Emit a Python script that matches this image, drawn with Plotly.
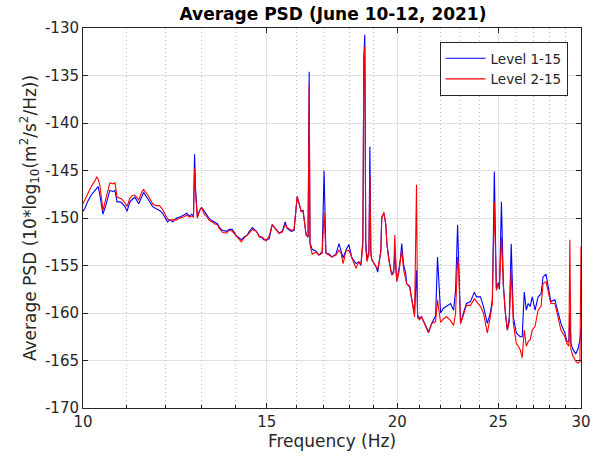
import plotly.graph_objects as go

# Frequency (Hz)
freq = [10.00, 10.04, 10.11, 10.18, 10.25, 10.31, 10.34, 10.38, 10.45, 10.52,
        10.61, 10.68, 10.73, 10.78, 10.85, 10.89, 10.97, 11.02, 11.09, 11.16,
        11.21, 11.31, 11.38, 11.43, 11.54, 11.59, 11.66, 11.74, 11.84, 11.92,
        11.98, 12.05, 12.11, 12.19, 12.29, 12.38, 12.48, 12.57, 12.65, 12.71,
        12.76, 12.79, 12.82, 12.87, 12.93, 12.99, 13.07, 13.13, 13.22, 13.30,
        13.36, 13.45, 13.51, 13.60, 13.72, 13.81, 13.90, 14.03, 14.12, 14.18,
        14.27, 14.37, 14.43, 14.53, 14.66, 14.75, 14.85, 14.91, 14.98, 15.08,
        15.18, 15.31, 15.41, 15.52, 15.62, 15.69, 15.83, 15.93, 16.00, 16.04,
        16.11, 16.18, 16.25, 16.32, 16.36, 16.43, 16.47, 16.50, 16.58, 16.72,
        16.83, 16.95, 17.02, 17.09, 17.21, 17.32, 17.47, 17.59, 17.67, 17.75,
        17.86, 17.98, 18.10, 18.26, 18.38, 18.46, 18.54, 18.58, 18.62, 18.66,
        18.71, 18.79, 18.83, 18.87, 18.91, 19.08, 19.16, 19.29, 19.33, 19.42,
        19.50, 19.55, 19.63, 19.76, 19.85, 19.89, 19.98, 20.07, 20.15, 20.20,
        20.29, 20.38, 20.42, 20.56, 20.65, 20.78, 20.87, 20.92, 21.01, 21.10,
        21.29, 21.43, 21.58, 21.77, 21.86, 22.01, 22.15, 22.30, 22.50, 22.65,
        22.75, 22.85, 22.90, 23.00, 23.15, 23.30, 23.51, 23.71, 23.82, 24.03,
        24.19, 24.40, 24.56, 24.67, 24.78, 24.89, 25.00, 25.06, 25.17, 25.28,
        25.39, 25.50, 25.61, 25.72, 25.84, 26.01, 26.12, 26.24, 26.35, 26.47,
        26.59, 26.70, 26.82, 26.94, 27.11, 27.29, 27.47, 27.59, 27.77, 27.89,
        28.07, 28.32, 28.51, 28.70, 28.95, 29.08, 29.21, 29.27, 29.34, 29.46,
        29.66, 29.80, 29.93, 30.00]

# Level 1-15 (blue), dB
level_1_15 = [-149.3, -149.0, -148.2, -147.6, -147.2, -146.8, -146.7, -147.6, -149.6, -148.6,
              -147.1, -147.2, -147.1, -148.3, -148.3, -148.4, -148.8, -149.3, -148.3, -148.0,
              -147.8, -148.5, -147.8, -147.3, -148.0, -148.4, -148.8, -149.0, -149.2, -149.5,
              -150.0, -150.4, -150.2, -150.4, -150.0, -149.9, -149.7, -149.5, -149.8, -149.6,
              -149.8, -143.3, -147.0, -149.9, -149.2, -148.9, -149.3, -149.6, -150.1, -150.3,
              -150.4, -150.6, -151.0, -151.3, -151.4, -151.2, -151.2, -151.9, -152.1, -152.3,
              -152.0, -151.8, -151.4, -151.0, -151.4, -151.9, -152.1, -152.3, -152.3, -152.2,
              -150.7, -151.2, -151.6, -151.4, -150.4, -151.1, -151.4, -151.3, -149.0, -147.8,
              -148.5, -149.3, -149.2, -150.7, -151.8, -152.0, -134.6, -152.6, -153.3, -153.5,
              -153.9, -153.5, -145.0, -153.7, -153.8, -154.1, -153.8, -152.7, -153.6, -154.2,
              -153.4, -152.8, -154.2, -154.8, -154.6, -155.0, -152.3, -133.2, -130.7, -152.5,
              -154.4, -153.5, -142.5, -153.5, -154.4, -155.1, -155.7, -153.5, -149.9, -149.5,
              -150.6, -152.7, -154.2, -156.0, -155.5, -153.7, -156.6, -155.5, -154.1, -152.7,
              -155.0, -155.8, -156.9, -157.2, -158.5, -160.1, -155.5, -160.2, -160.6, -160.4,
              -161.3, -162.0, -161.1, -160.3, -154.1, -160.0, -159.5, -159.3, -159.0, -159.7,
              -157.6, -150.7, -155.0, -161.1, -160.0, -159.0, -158.8, -157.8, -158.3, -158.3,
              -159.3, -161.1, -160.0, -158.6, -145.1, -157.4, -156.8, -157.5, -148.3, -157.0,
              -160.0, -161.8, -160.5, -152.7, -160.4, -162.1, -162.3, -162.5, -162.5, -157.8,
              -159.7, -159.0, -159.3, -158.3, -159.7, -158.3, -158.0, -156.2, -155.9, -157.2,
              -158.8, -158.6, -160.0, -161.1, -162.1, -163.0, -163.0, -160.0, -163.2, -163.8,
              -164.3, -163.8, -162.8, -161.5]

# Level 2-15 (red), dB
level_2_15 = [-148.5, -148.1, -147.4, -146.7, -146.2, -145.7, -145.9, -146.6, -149.2, -147.8,
              -146.3, -146.4, -146.3, -147.8, -147.9, -148.0, -148.4, -148.8, -147.9, -147.6,
              -147.6, -148.1, -147.3, -147.0, -147.6, -148.0, -148.5, -148.7, -148.7, -149.1,
              -149.5, -150.1, -150.2, -150.2, -150.2, -150.0, -149.9, -149.7, -149.9, -149.8,
              -149.9, -144.8, -147.5, -150.0, -149.3, -148.9, -149.6, -149.8, -150.3, -150.4,
              -150.6, -150.7, -151.1, -151.5, -151.6, -151.3, -151.4, -151.9, -152.2, -152.5,
              -152.1, -151.8, -151.6, -151.2, -151.4, -152.0, -152.0, -152.2, -152.4, -151.9,
              -150.7, -151.2, -151.6, -151.5, -150.7, -151.0, -151.3, -151.2, -149.0, -147.7,
              -148.5, -149.3, -149.3, -150.7, -151.8, -152.0, -136.0, -152.8, -153.8, -153.6,
              -153.9, -153.7, -149.4, -153.7, -153.9, -154.1, -153.9, -153.4, -153.7, -154.8,
              -153.5, -153.4, -154.2, -155.3, -154.6, -154.9, -153.0, -133.5, -131.9, -153.2,
              -154.6, -153.8, -145.5, -153.9, -154.4, -155.1, -155.4, -153.5, -150.0, -149.4,
              -150.6, -152.7, -154.4, -156.0, -155.8, -151.8, -156.7, -155.8, -154.5, -153.4,
              -155.5, -156.3, -156.9, -157.3, -158.6, -160.4, -146.5, -160.5, -160.7, -160.4,
              -161.4, -162.1, -161.1, -160.9, -158.6, -161.0, -160.6, -160.4, -160.8, -161.3,
              -160.0, -154.1, -155.5, -161.1, -160.2, -159.2, -159.2, -158.5, -158.8, -159.3,
              -160.0, -162.1, -160.4, -159.0, -148.3, -157.6, -157.0, -157.2, -152.0, -157.3,
              -160.0, -161.8, -161.0, -155.5, -161.1, -163.2, -163.5, -163.9, -164.7, -161.8,
              -163.5, -163.0, -162.8, -161.8, -161.4, -159.7, -159.3, -156.9, -156.7, -157.5,
              -159.0, -159.0, -160.4, -161.8, -162.5, -163.2, -163.5, -152.3, -163.8, -164.5,
              -165.1, -165.3, -165.1, -153.0]

x_ticks = [10, 15, 20, 25, 30]
x_minor = [11, 12, 13, 14, 16, 17, 18, 19, 21, 22, 23, 24, 26, 27, 28, 29]
y_ticks = [-170, -165, -160, -155, -150, -145, -140, -135, -130]

FONT = "DejaVu Sans, Liberation Sans, sans-serif"
AX = "#262626"

fig = go.Figure()
fig.add_trace(go.Scatter(x=freq, y=level_1_15, mode="lines", name="Level 1-15",
                         line=dict(color="#0000FF", width=1.1)))
fig.add_trace(go.Scatter(x=freq, y=level_2_15, mode="lines", name="Level 2-15",
                         line=dict(color="#FF0000", width=1.1)))
# invisible helper trace for the minor-grid axis
fig.add_trace(go.Scatter(x=[10, 30], y=[-170, -170], xaxis="x2", mode="lines",
                         line=dict(width=0), showlegend=False, hoverinfo="skip"))

xr = [1, 1.4771212547]
fig.update_layout(
    width=603, height=462,
    margin=dict(l=83, r=20, t=28, b=54),
    paper_bgcolor="white", plot_bgcolor="white",
    font=dict(family=FONT, size=15, color=AX),
    title=dict(text="<b>Average PSD (June 10-12, 2021)</b>", x=(83 + 250) / 603,
               xanchor="center", y=1 - 14 / 462, yanchor="middle",
               font=dict(size=17, color="#000000")),
    xaxis=dict(type="log", range=xr, tickmode="array", tickvals=x_ticks,
               ticktext=[str(v) for v in x_ticks], showgrid=True,
               gridcolor="#e0e0e0", gridwidth=1, zeroline=False,
               showline=True, linecolor=AX, linewidth=1, mirror="ticks",
               ticks="inside", ticklen=5, tickcolor=AX,
               title=dict(text="Frequency (Hz)", font=dict(size=17), standoff=4),
               tickfont=dict(size=15)),
    xaxis2=dict(type="log", range=xr, overlaying="x", anchor="y", side="bottom",
                tickmode="array", tickvals=x_minor, showticklabels=False,
                showgrid=True, gridcolor="#bdbdbd", griddash="1px,3px", gridwidth=1,
                ticks="inside", ticklen=3, tickcolor=AX, showline=False, zeroline=False),
    yaxis=dict(range=[-170, -130], tickmode="array", tickvals=y_ticks,
               ticktext=[str(v) for v in y_ticks],
               showgrid=True, gridcolor="#e0e0e0", gridwidth=1, zeroline=False,
               showline=True, linecolor=AX, linewidth=1, mirror="ticks",
               ticks="inside", ticklen=5, tickcolor=AX,
               title=dict(text="Average PSD (10*log<sub>10</sub>(m<sup>2</sup>/s<sup>2</sup>/Hz))",
                          font=dict(size=17), standoff=4),
               tickfont=dict(size=15)),
    legend=dict(x=(441 - 83) / 500, y=(408 - 42) / 380, xanchor="left", yanchor="top",
                bgcolor="white", bordercolor=AX, borderwidth=1,
                font=dict(size=13.5, color=AX), tracegroupgap=0, itemwidth=40),
    showlegend=True,
)

fig.write_html("out.html")
